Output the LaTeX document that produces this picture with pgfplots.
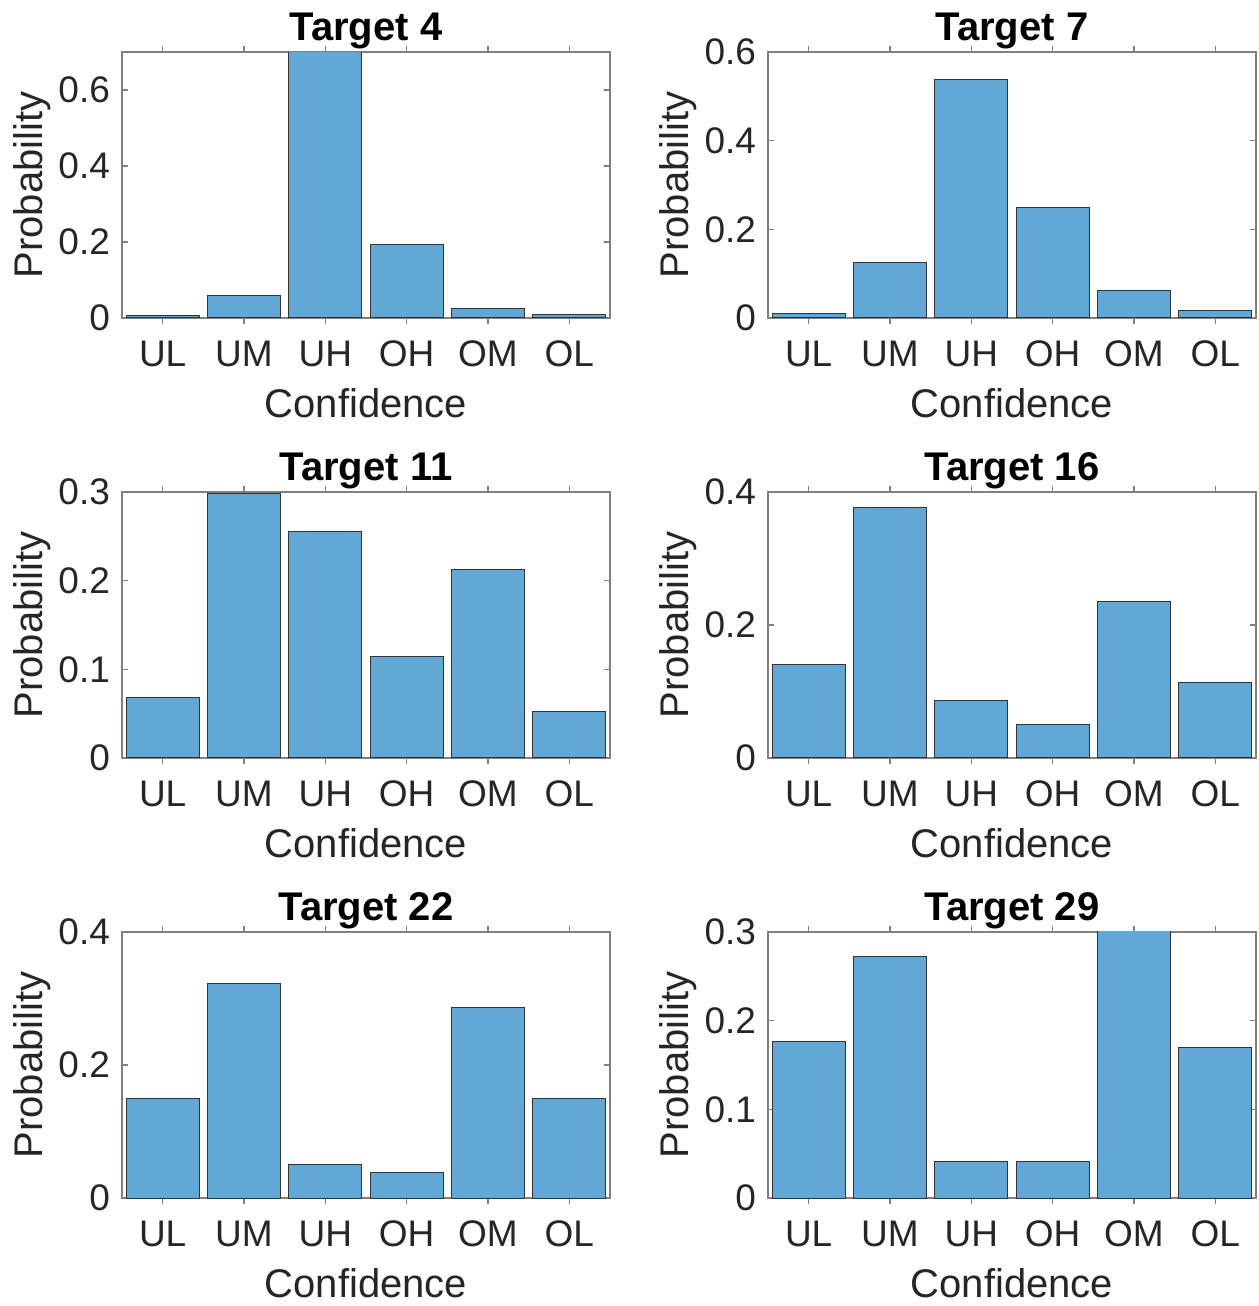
\documentclass[border=0pt]{standalone}
\usepackage{pgfplots}
\pgfplotsset{compat=1.18}
\usepackage{fontspec}
\setmainfont{Liberation Sans}
\definecolor{barblue}{RGB}{98,168,214}
\definecolor{axgray}{RGB}{128,128,128}
\definecolor{txt}{RGB}{38,38,38}
\pgfplotsset{
  mat/.style={
    scale only axis, width=244pt, height=133pt,
    anchor=south west,
    xmin=0.5, xmax=6.5, ymin=0,
    xtick={1,...,6}, xticklabels={UL,UM,UH,OH,OM,OL},
    tick align=inside, major tick length=3pt,
    axis line style={axgray, line width=0.6pt},
    every tick/.style={axgray, line width=0.6pt},
    ticklabel style={font=\fontsize{18.5}{20}\selectfont, text=txt},
    xticklabel style={yshift=-5pt},
    yticklabel style={xshift=-2.5pt},
    label style={font=\fontsize{20}{24}\selectfont, text=txt},
    xlabel style={yshift=-4pt},
    ylabel style={yshift=-3pt},
    title style={font=\fontsize{20}{24}\selectfont\bfseries, text=black, yshift=-8pt},
    xlabel=Confidence, ylabel=Probability,
    ybar, bar width=0.9,
    scaled y ticks=false,
  },
  barst/.style={fill=barblue, draw=black!80, line width=0.5pt},
}
\begin{document}
\begin{tikzpicture}
\useasboundingbox (0,0) rectangle (629pt,653pt);
% Row 1
\begin{axis}[mat, at={(61pt,494pt)}, title={Target 4}, ymax=0.7,
  ytick={0,0.2,0.4,0.6}, yticklabels={0,0.2,0.4,0.6}]
\addplot[barst] coordinates {(1,0.007) (2,0.058) (3,0.705) (4,0.193) (5,0.024) (6,0.008)};
\end{axis}
\begin{axis}[mat, at={(384pt,494pt)}, title={Target 7}, ymax=0.6,
  ytick={0,0.2,0.4,0.6}, yticklabels={0,0.2,0.4,0.6}]
\addplot[barst] coordinates {(1,0.011) (2,0.126) (3,0.537) (4,0.250) (5,0.063) (6,0.016)};
\end{axis}
% Row 2
\begin{axis}[mat, at={(61pt,274pt)}, title={Target 11}, ymax=0.3,
  ytick={0,0.1,0.2,0.3}, yticklabels={0,0.1,0.2,0.3}]
\addplot[barst] coordinates {(1,0.068) (2,0.298) (3,0.255) (4,0.114) (5,0.213) (6,0.052)};
\end{axis}
\begin{axis}[mat, at={(384pt,274pt)}, title={Target 16}, ymax=0.4,
  ytick={0,0.2,0.4}, yticklabels={0,0.2,0.4}]
\addplot[barst] coordinates {(1,0.140) (2,0.376) (3,0.086) (4,0.051) (5,0.236) (6,0.113)};
\end{axis}
% Row 3
\begin{axis}[mat, at={(61pt,54pt)}, title={Target 22}, ymax=0.4,
  ytick={0,0.2,0.4}, yticklabels={0,0.2,0.4}]
\addplot[barst] coordinates {(1,0.150) (2,0.323) (3,0.051) (4,0.039) (5,0.286) (6,0.150)};
\end{axis}
\begin{axis}[mat, at={(384pt,54pt)}, title={Target 29}, ymax=0.3,
  ytick={0,0.1,0.2,0.3}, yticklabels={0,0.1,0.2,0.3}]
\addplot[barst] coordinates {(1,0.176) (2,0.272) (3,0.041) (4,0.041) (5,0.302) (6,0.170)};
\end{axis}
\end{tikzpicture}
\end{document}
